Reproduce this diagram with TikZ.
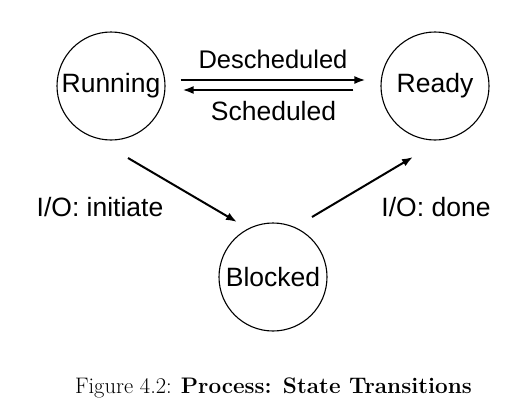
\documentclass[tikz,border=0pt]{standalone}
\usepackage{fontspec}
\newfontfamily\diafont{Liberation Sans}
\usetikzlibrary{arrows.meta}
\begin{document}
\begin{tikzpicture}[x=1pt,y=-1pt,
  state/.style={circle,draw,line width=1.1pt,minimum size=108pt,inner sep=0pt,font=\diafont\fontsize{26.5}{30}\selectfont},
  lbl/.style={font=\diafont\fontsize{26.5}{30}\selectfont,inner sep=0pt,anchor=base},
  arr/.style={line width=2pt,-{Latex[length=11pt,width=8pt]}}]
\useasboundingbox (0,0) rectangle (505,415);
\node[state] (run) at (111,86) {Running};
\node[state] (rdy) at (435,86) {Ready};
\node[state] (blk) at (273,277) {Blocked};
\draw[arr] ([shift={(15,-6)}]run.east) -- ([shift={(-15,-6)}]rdy.west);
\draw[arr] ([shift={(-27,4)}]rdy.west) -- ([shift={(17,4)}]run.east);
\draw[arr] ([shift={(17,72)}]run.center) -- ([shift={(-36,-55)}]blk.center);
\draw[arr] ([shift={(39,-60)}]blk.center) -- ([shift={(-22,71)}]rdy.center);
\node[lbl,font=\diafont\fontsize{25.5}{29}\selectfont] (t1) at (273,68) {Descheduled};
\node[lbl] (t2) at (273.5,120) {Scheduled};
\node[lbl] (t3) at (100,216) {I/O: initiate};
\node[lbl] (t4) at (436,216) {I/O: done};
\node[inner sep=0pt,anchor=base,font=\fontsize{22.5}{26}\selectfont] (cap) at (273.5,393) {Figure 4.2: \textbf{Process: State Transitions}};
\end{tikzpicture}
\end{document}
